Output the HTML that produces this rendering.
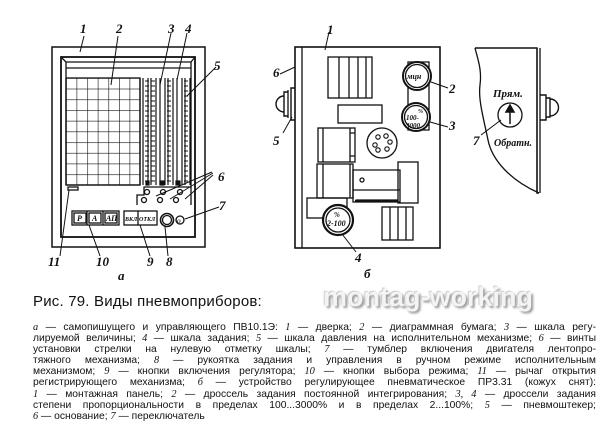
<!DOCTYPE html>
<html><head><meta charset="utf-8"><style>
html,body{margin:0;padding:0;background:#fff;width:614px;height:441px;overflow:hidden;position:relative}
svg{position:absolute;left:0;top:0}
.t{font-family:"Liberation Serif",serif;font-style:italic;font-weight:bold}
#title{position:absolute;left:33px;top:293px;font:15px "Liberation Sans",sans-serif;color:#111;letter-spacing:0.2px}
#wm{position:absolute;left:323px;top:282px;font:bold 27px "Liberation Sans",sans-serif;color:#f4f4f4;text-shadow:2px 2px 2px #999,-1px -1px 1px #ccc;letter-spacing:0px}
#cap{position:absolute;left:33px;top:322px;width:563px;font:10.3px/11.1px "Liberation Sans",sans-serif;color:#111}
#cap div{text-align:justify;text-align-last:justify;white-space:nowrap;overflow:visible}
#cap div.l{text-align-last:left}
#cap i{font-family:"Liberation Serif",serif}
</style></head><body>
<svg width="614" height="441" viewBox="0 0 614 441" fill="none" stroke="#111" stroke-width="1.3">
<defs>
<pattern id="g" x="66" y="78" width="10.6" height="10.7" patternUnits="userSpaceOnUse"><path d="M0 0H10.6M0 0V10.7" stroke="#111" stroke-width="1.2"/></pattern>
<pattern id="tk" x="0" y="80" width="4" height="5" patternUnits="userSpaceOnUse"><path d="M0 1H4" stroke="#111" stroke-width="1"/></pattern>
</defs>
<!-- device a -->
<rect x="52" y="47" width="153" height="200" stroke-width="1.5"/>
<rect x="61" y="57" width="134" height="180" stroke-width="1.8"/>
<path d="M61 57L66 62H191L195 57M66 62V185M191 62V205M66 68H191"/>
<rect x="66" y="78" width="74" height="107" fill="url(#g)"/>
<path d="M140 78V185M66 185H140"/>
<g stroke-width="1.2">
<path d="M143 78V185M148 78V185M151 78V185M156 78V185M160 78V185M165 78V185M168 78V185M173 78V185M177 78V185M182 78V185M185 78V185M190 78V185"/>
<rect x="151" y="80" width="4" height="102" fill="url(#tk)" stroke="none"/>
<rect x="167" y="80" width="4" height="102" fill="url(#tk)" stroke="none"/>
<rect x="184" y="80" width="4" height="102" fill="url(#tk)" stroke="none"/>
<rect x="145" y="80" width="4" height="102" fill="url(#tk)" stroke="none"/>
<rect x="146" y="181" width="3" height="4" fill="#111"/><rect x="160" y="181" width="4" height="4" fill="#111"/><rect x="176" y="181" width="4" height="4" fill="#111"/>
</g>
<path d="M137 205V195H144V187H191"/>
<circle cx="147" cy="192" r="2.5"/><circle cx="163" cy="192" r="2.5"/><circle cx="180" cy="192" r="2.5"/>
<circle cx="144" cy="200" r="2.5"/><circle cx="160" cy="200" r="2.5"/><circle cx="176" cy="200" r="2.5"/>
<rect x="68" y="187" width="10" height="3"/>
<rect x="72" y="211" width="47" height="14"/><path d="M87 211V225M103 211V225"/>
<rect x="74" y="213" width="12" height="10"/><rect x="89" y="213" width="12" height="10"/><rect x="105" y="213" width="12" height="10"/>
<rect x="124" y="211" width="33" height="14"/><path d="M138 211V225"/>
<circle cx="167" cy="220" r="6.5" stroke-width="1.6"/><circle cx="167" cy="220" r="4.5"/>
<circle cx="180" cy="220" r="4"/>
<g stroke-width="1">
<path d="M84 36L80 52M118 36L111 85M171 33L160 85M187 33L177 80M216 67L187 96M212 172L156 196M213 173L170 199M213 175L185 199M219 207L185 219M60 256L69 190M100 256L89 225M150 256L140 225M168 256L165 227"/>
</g>
<g class="t" fill="#111" stroke="none" font-size="13">
<text x="80" y="33">1</text><text x="116" y="33">2</text><text x="168" y="33">3</text><text x="185" y="33">4</text><text x="214" y="70">5</text><text x="218" y="181">6</text><text x="219" y="210">7</text>
<text x="48" y="266">11</text><text x="96" y="266">10</text><text x="147" y="266">9</text><text x="166" y="266">8</text>
<text x="118" y="280">a</text>
</g>
<!-- device b -->
<rect x="295" y="47" width="145" height="201" stroke-width="1.6"/>
<path d="M302 47V248"/>
<path d="M295 88H291V120H295M288 92H284V116H288" stroke-width="1.4"/>
<path d="M284 96A8 8 0 0 0 284 112" stroke-width="1.4"/><path d="M288 90V118"/>
<rect x="328" y="57" width="44" height="41"/><path d="M339 57V98M349 57V98M358 57V98M366 57V98"/>
<rect x="338" y="105" width="44" height="18"/>
<rect x="318" y="128" width="37" height="34"/><path d="M323 128V162M350 128V162M350 133H355M350 156H355"/>
<circle cx="382" cy="143" r="15"/>
<g stroke-width="1.1"><circle cx="378" cy="137" r="2.2"/><circle cx="386" cy="136" r="2.2"/><circle cx="390" cy="142" r="2.2"/><circle cx="375" cy="145" r="2.2"/><circle cx="387" cy="149" r="2.2"/><circle cx="378" cy="150" r="2.2"/></g>
<path d="M408 62H429V130H408Z"/>
<circle cx="417" cy="76" r="14" fill="#fff" stroke-width="2"/><circle cx="417" cy="76" r="11.5" fill="#fff"/>
<circle cx="416" cy="117" r="14" fill="#fff" stroke-width="2"/><circle cx="416" cy="117" r="11.5" fill="#fff"/>
<rect x="317" y="164" width="36" height="34"/><path d="M323 164V198M350 164V198"/>
<path d="M353 170H400V202H353ZM353 190H400M356 200H398" /><path d="M355 201H398" stroke-width="2.5"/>
<circle cx="362" cy="180" r="2"/>
<rect x="398" y="162" width="20" height="41"/>
<rect x="307" y="198" width="40" height="20"/>
<circle cx="338" cy="220" r="15" fill="#fff" stroke-width="2.2"/><circle cx="338" cy="220" r="12" fill="#fff"/>
<rect x="382" y="207" width="31" height="33"/><path d="M390 207V240M398 207V240M406 207V240"/>
<path d="M475 48H537V193L539 193" stroke-width="1.4"/>
<path d="M475 48C478 60 482 70 480 85C478 100 484 120 488 140C492 160 510 180 539 193" stroke-width="1.3"/>
<path d="M537 48V193M540 48V193"/>
<path d="M540 95H546V120H540M546 98H550V117H546M550 99A8 8 0 0 1 550 116" stroke-width="1.4"/>
<circle cx="510" cy="115" r="12"/>
<path d="M510 124V110M506 112L510 105L514 112Z" fill="#111" stroke-width="1.5"/>
<g stroke-width="1">
<path d="M329 32L325 50M280 74L295 67M283 133L292 117M431 82L448 88M430 122L448 127M342 234L356 252M481 135L501 120"/>
</g>
<g class="t" fill="#111" stroke="none" font-size="13">
<text x="327" y="34">1</text><text x="273" y="77">6</text><text x="273" y="145">5</text><text x="449" y="93">2</text><text x="449" y="130">3</text><text x="355" y="262">4</text><text x="364" y="278">б</text><text x="473" y="145">7</text>
</g>
<g class="t" fill="#111" stroke="none" font-size="11">
<text x="493" y="97">Прям.</text><text x="494" y="146" font-size="10">Обратн.</text>
<text x="407" y="79" font-size="8">мцн</text>
<text x="418" y="113" font-size="6">%</text><text x="406" y="120" font-size="7">100-</text><text x="406" y="128" font-size="7">3000</text>
<text x="334" y="217" font-size="7">%</text><text x="327" y="226" font-size="8">2-100</text>
</g>
<g class="t" fill="#111" stroke="none" font-size="8">
<text x="77" y="221">Р</text><text x="92" y="221">А</text><text x="106" y="221">АП</text><text x="125" y="221" font-size="6">ВКЛ</text><text x="139" y="221" font-size="6">ОТКЛ</text><text x="177" y="223" font-size="5">О</text>
</g>
</svg>
<div id="wm">montag-working</div>
<div id="title">Рис. 79. Виды пневмоприборов:</div>
<div id="cap">
<div><i>а</i> — самопишущего и управляющего ПВ10.1Э: <i>1</i> — дверка; <i>2</i> — диаграммная бумага; <i>3</i> — шкала регу-</div>
<div>лируемой величины; <i>4</i> — шкала задания; <i>5</i> — шкала давления на исполнительном механизме; <i>6</i> — винты</div>
<div>установки стрелки на нулевую отметку шкалы; <i>7</i> — тумблер включения двигателя лентопро-</div>
<div>тяжного механизма; <i>8</i> — рукоятка задания и управления в ручном режиме исполнительным</div>
<div>механизмом; <i>9</i> — кнопки включения регулятора; <i>10</i> — кнопки выбора режима; <i>11</i> — рычаг открытия</div>
<div>регистрирующего механизма; <i>б</i> — устройство регулирующее пневматическое ПР3.31 (кожух снят):</div>
<div><i>1</i> — монтажная панель; <i>2</i> — дроссель задания постоянной интегрирования; <i>3, 4</i> — дроссели задания</div>
<div>степени пропорциональности в пределах 100...3000% и в пределах 2...100%; <i>5</i> — пневмоштекер;</div>
<div class="l"><i>6</i> — основание; <i>7</i> — переключатель</div>
</div>
</body></html>
